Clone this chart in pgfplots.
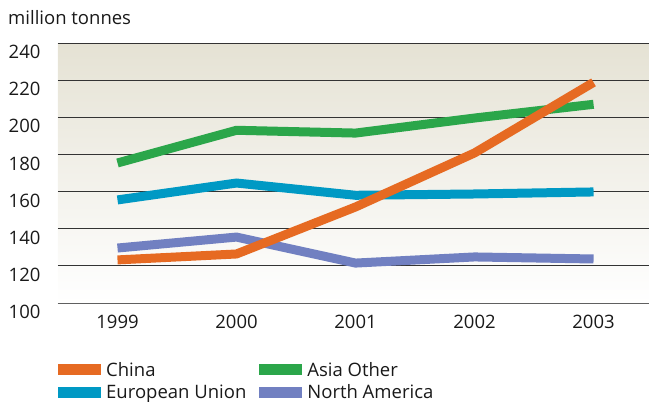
\documentclass[border=0pt]{standalone}
\usepackage{fontspec}
\setmainfont{Open Sans}
\usepackage{pgfplots}
\pgfplotsset{compat=1.18}
\definecolor{cChina}{RGB}{230,106,34}
\definecolor{cAsia}{RGB}{43,166,74}
\definecolor{cEU}{RGB}{0,153,196}
\definecolor{cNA}{RGB}{113,128,193}
\definecolor{bgTop}{RGB}{229,226,212}
\begin{document}
\begin{tikzpicture}
\begin{axis}[
  scale only axis, width=591pt, height=260pt,
  at={(0pt,0pt)}, anchor=south west,
  xmin=-0.5, xmax=4.466, ymin=100, ymax=240,
  axis x line*=bottom, axis y line*=left,
  y axis line style={draw=none},
  x axis line style={draw=gray!75!black, line width=1pt, -},
  xtick={0,1,2,3,4}, xticklabels={1999,2000,2001,2002,2003},
  major tick length=0pt,
  extra x ticks={-0.5,0.5,1.5,2.5,3.5}, extra x tick labels={},
  extra x tick style={major tick length=6pt, tick align=outside, tick style={draw=gray!75!black, line width=1pt}},
  ytick={100,120,...,240},
  ymajorgrids, grid style={black!80, line width=0.8pt},
  ytick style={draw=none}, xtick style={draw=none},
  tick label style={font=\fontsize{18.5}{22}\selectfont, text=black!90},
  /pgf/number format/assume math mode=true,
  yticklabel style={anchor=east, xshift=-14pt, yshift=-9pt},
  xticklabel style={yshift=-9pt},
  axis background/.style={top color=bgTop, bottom color=white},
  clip=false,
  legend columns=2,
  legend cell align=left,
  legend style={draw=none, fill=none, at={(0,-0.215)}, anchor=north west,
    inner sep=0pt, font=\fontsize{18.5}{22}\selectfont, text=black!90,
    row sep=1pt,
    nodes={inner sep=3pt},
    /tikz/column 1/.style={column sep=2pt},
    /tikz/column 2/.style={column sep=10pt},
    /tikz/column 3/.style={column sep=2pt}},
  legend image code/.code={\fill[#1, draw=none] (0pt,-5.5pt) rectangle (43pt,5.5pt);},
  every axis plot/.append style={line width=9pt, line join=miter},
]
\addplot[cNA, forget plot] coordinates {(0,129.6) (1,135.5) (2,121.5) (3,124.8) (4,123.7)};
\addplot[cEU, forget plot] coordinates {(0,155.5) (1,164.6) (2,158.0) (3,158.7) (4,159.8)};
\addplot[cAsia, forget plot] coordinates {(0,175.4) (1,193.0) (2,191.5) (3,199.6) (4,207.0)};
\addplot[cChina, forget plot] coordinates {(0,123.2) (1,126.4) (2,151.7) (3,180.8) (4,218.8)};
\addlegendimage{cChina}\addlegendentry{China}
\addlegendimage{cAsia}\addlegendentry{Asia Other}
\addlegendimage{cEU}\addlegendentry{European Union}
\addlegendimage{cNA}\addlegendentry{North America}
\node[anchor=west, font=\fontsize{18.5}{22}\selectfont, text=black!90, inner sep=0pt] at (rel axis cs:0,1) [xshift=-50pt, yshift=25pt] {million tonnes};
\end{axis}
\pgfresetboundingbox
\useasboundingbox (-58pt,-99pt) rectangle (591pt,303pt);
\end{tikzpicture}
\end{document}
